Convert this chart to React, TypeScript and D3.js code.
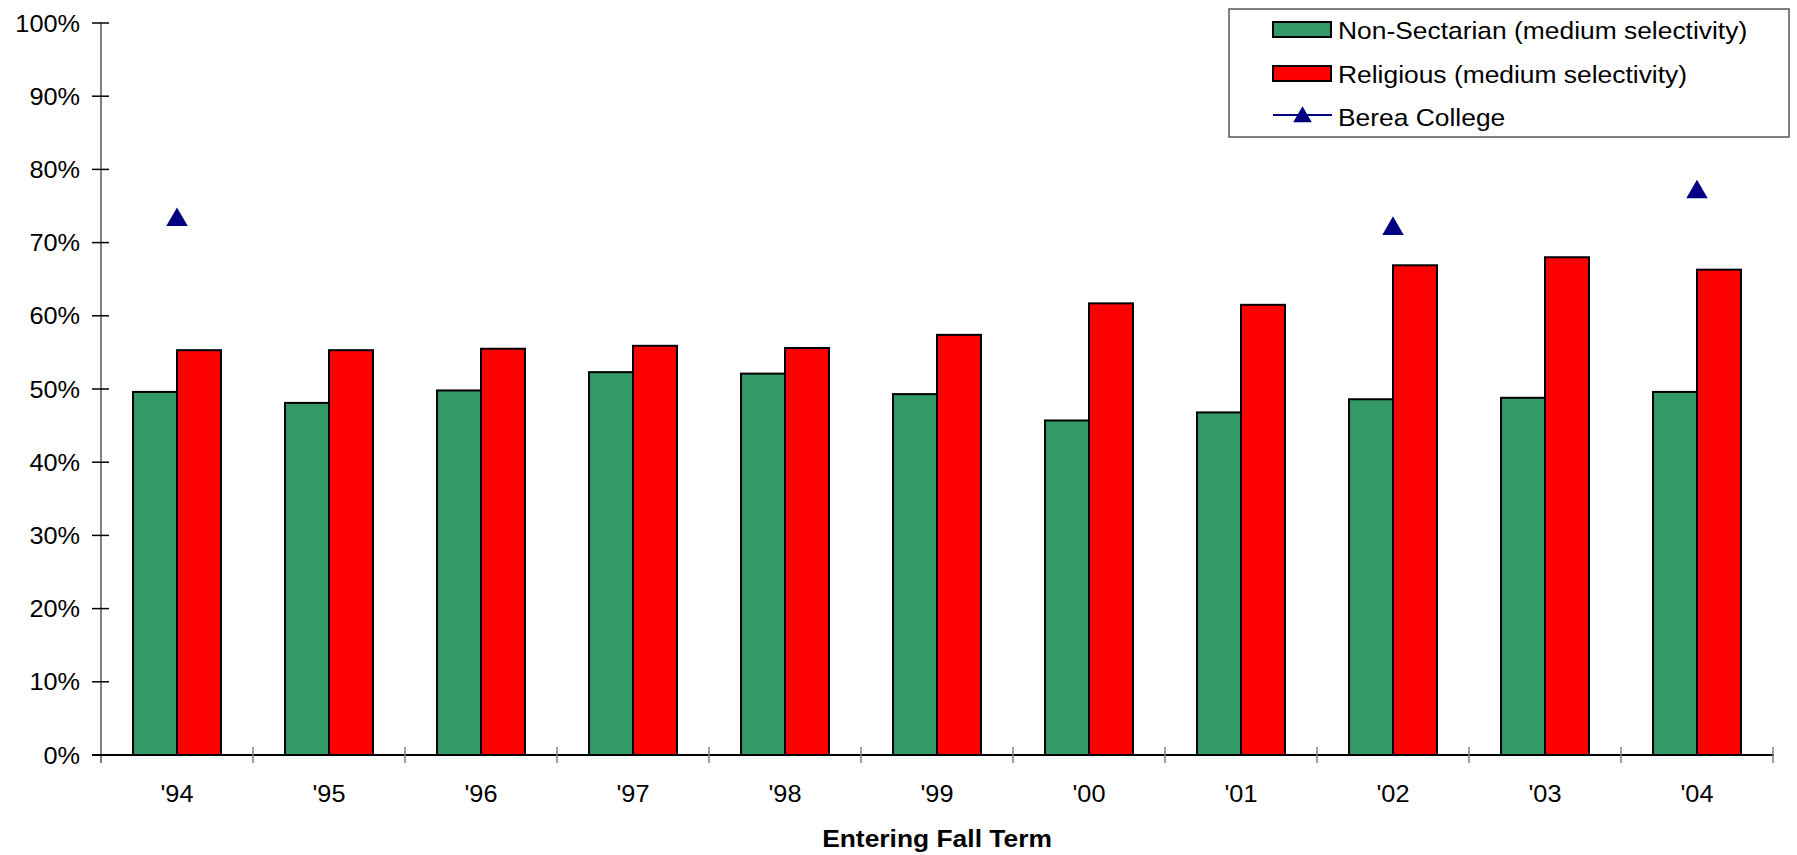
import React from "react";
import * as d3 from "d3";

const categories = ["'94", "'95", "'96", "'97", "'98", "'99", "'00", "'01", "'02", "'03", "'04"];
const nonSectarian = [49.6, 48.1, 49.8, 52.3, 52.1, 49.3, 45.7, 46.8, 48.6, 48.8, 49.6];
const religious = [55.3, 55.3, 55.5, 55.9, 55.6, 57.4, 61.7, 61.5, 66.9, 68.0, 66.3];
const berea: (number | null)[] = [73.1, null, null, null, null, null, null, null, 71.9, null, 76.9];
const yTicks = [0, 10, 20, 30, 40, 50, 60, 70, 80, 90, 100];
const seriesNames = ["Non-Sectarian (medium selectivity)", "Religious (medium selectivity)", "Berea College"];

const W = 1797;
const H = 855;
const left = 101;
const right = 1773;
const top = 23;
const bottom = 755;
const FONT = "Arial, 'Liberation Sans', sans-serif";
const GREEN = "#339966";
const RED = "#FF0000";
const NAVY = "#000080";
const SX = 1.1;

function Txt(props: { x: number; y: number; anchor?: string; size: number; bold?: boolean; sx?: number; children: React.ReactNode }) {
  const { x, y, anchor = "start", size, bold, sx = SX, children } = props;
  return (
    <g transform={`translate(${x},${y}) scale(${sx},1)`}>
      <text x={0} y={0} textAnchor={anchor} fontSize={size} fontWeight={bold ? "bold" : "normal"} fill="#000">
        {children}
      </text>
    </g>
  );
}

export default function App() {
  const x = d3.scaleBand<string>().domain(categories).range([left, right]).padding(0);
  const bw = x.bandwidth();
  const inner = d3.scaleBand<string>().domain(["a", "b"]).range([32, bw - 32]).padding(0);
  const y = d3.scaleLinear().domain([0, 100]).range([bottom, top]);
  const tri = d3.symbol().type(d3.symbolTriangle).size(200)();
  const triSmall = d3.symbol().type(d3.symbolTriangle).size(150)();

  const series = [
    { key: "a", vals: nonSectarian, color: GREEN },
    { key: "b", vals: religious, color: RED },
  ];

  return (
    <svg width={W} height={H} style={{ position: "absolute", left: 0, top: 0, background: "#fff" }} fontFamily={FONT}>
      <rect x={0} y={0} width={W} height={H} fill="#fff" />
      {series.map((s) =>
        categories.map((c, i) => (
          <rect
            key={s.key + c}
            x={(x(c) as number) + (inner(s.key) as number)}
            y={y(s.vals[i])}
            width={inner.bandwidth()}
            height={y(0) - y(s.vals[i])}
            fill={s.color}
            stroke="#000"
            strokeWidth={2}
          />
        ))
      )}
      <line x1={left} x2={left} y1={top} y2={bottom + 8} stroke="#808080" strokeWidth={2} />
      {yTicks.map((t) => (
        <g key={t}>
          <line x1={left - 9} x2={left + 8} y1={y(t)} y2={y(t)} stroke="#000" strokeWidth={1.5} />
          <Txt x={left - 21} y={y(t) + 8.5} anchor="end" size={23}>{t}%</Txt>
        </g>
      ))}
      <line x1={left - 9} x2={right + 1} y1={bottom} y2={bottom} stroke="#000" strokeWidth={2} />
      {categories.map((c) => (
        <line key={"xt" + c} x1={(x(c) as number) + bw} x2={(x(c) as number) + bw} y1={bottom - 8} y2={bottom + 8} stroke="#808080" strokeWidth={1.5} />
      ))}
      {categories.map((c) => (
        <Txt key={"xl" + c} x={(x(c) as number) + bw / 2} y={802} anchor="middle" size={23}>{c}</Txt>
      ))}
      <Txt x={(left + right) / 2} y={847} anchor="middle" size={24} bold>Entering Fall Term</Txt>
      {categories.map((c, i) =>
        berea[i] == null ? null : (
          <path key={"b" + c} d={tri as string} transform={`translate(${(x(c) as number) + bw / 2},${y(berea[i] as number)})`} fill={NAVY} />
        )
      )}
      {/* legend */}
      <rect x={1229} y={9} width={560} height={128} fill="#fff" stroke="#555" strokeWidth={1.5} />
      <rect x={1273} y={22} width={58} height={15} fill={GREEN} stroke="#000" strokeWidth={2} />
      <Txt x={1338} y={38.5} size={24}>{seriesNames[0]}</Txt>
      <rect x={1273} y={66} width={58} height={15} fill={RED} stroke="#000" strokeWidth={2} />
      <Txt x={1338} y={82.5} size={24}>{seriesNames[1]}</Txt>
      <line x1={1273} x2={1332} y1={115} y2={115} stroke={NAVY} strokeWidth={2} />
      <path d={triSmall as string} transform={`translate(1302.5,117)`} fill={NAVY} />
      <Txt x={1338} y={126} size={24}>{seriesNames[2]}</Txt>
    </svg>
  );
}
